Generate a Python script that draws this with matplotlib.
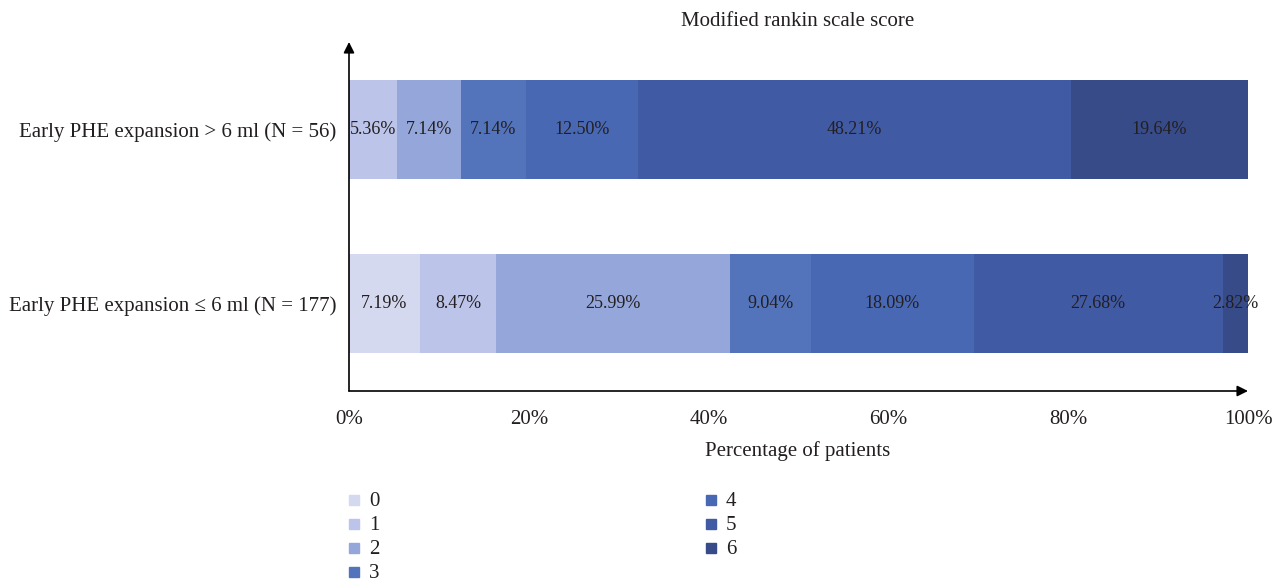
import matplotlib
matplotlib.use('Agg')
import matplotlib.pyplot as plt
from matplotlib.patches import Rectangle

plt.rcParams['font.family'] = ['Liberation Serif', 'DejaVu Serif']

groups = ['Early PHE expansion ≤ 6 ml (N = 177)', 'Early PHE expansion > 6 ml (N = 56)']
scores = ['0', '1', '2', '3', '4', '5', '6']
colors = ['#D5D9F0', '#BCC4EA', '#94A6DA', '#5373BA', '#4968B3', '#415AA4', '#374B89']

# percentages per score, one list per group (same order as groups)
values_low = [7.91, 8.47, 25.99, 9.04, 18.09, 27.68, 2.82]
values_high = [0.0, 5.36, 7.14, 7.14, 12.50, 48.21, 19.64]
# labels as printed on the chart
labels_low = ['7.19%', '8.47%', '25.99%', '9.04%', '18.09%', '27.68%', '2.82%']
labels_high = ['', '5.36%', '7.14%', '7.14%', '12.50%', '48.21%', '19.64%']

xticks = [0, 20, 40, 60, 80, 100]
xticklabels = ['0%', '20%', '40%', '60%', '80%', '100%']

text_color = '#231F20'

fig = plt.figure(figsize=(12.72, 5.82), dpi=100)
ax = fig.add_axes([349 / 1272, 1 - 391 / 582, 899 / 1272, 349 / 582])

for yi, (vals, labs) in enumerate([(values_low, labels_low), (values_high, labels_high)]):
    left = 0
    for v, lab, c in zip(vals, labs, colors):
        if v > 0:
            ax.barh(yi, v, left=left, height=0.565, color=c, edgecolor='none')
            ax.text(left + v / 2, yi, lab, ha='center', va='center',
                    fontsize=13, color=text_color)
        left += v

ax.set_xlim(0, 100)
ax.set_ylim(-0.5, 1.5)
ax.set_xticks(xticks)
ax.set_xticklabels(xticklabels, fontsize=15, color=text_color)
ax.set_yticks([0, 1])
ax.set_yticklabels(groups, fontsize=15, color=text_color)
ax.tick_params(length=0, pad=9)
ax.tick_params(axis='x', pad=14)
for s in ax.spines.values():
    s.set_visible(False)

# axis arrows
ax.annotate('', xy=(1.0, 0), xytext=(0, 0), xycoords='axes fraction',
            arrowprops=dict(arrowstyle='-|>', color='black', lw=1.2,
                            mutation_scale=16, shrinkA=0, shrinkB=0))
ax.annotate('', xy=(0, 1.0), xytext=(0, 0), xycoords='axes fraction',
            arrowprops=dict(arrowstyle='-|>', color='black', lw=1.2,
                            mutation_scale=16, shrinkA=0, shrinkB=0))

fig.text(798 / 1272, 1 - 22 / 582, 'Modified rankin scale score', ha='center',
         va='center', fontsize=15, color=text_color)
fig.text(798 / 1272, 1 - 451 / 582, 'Percentage of patients', ha='center',
         va='center', fontsize=15, color=text_color)

# legend, two columns
for i, (s, c) in enumerate(zip(scores, colors)):
    col, row = (0, i) if i < 4 else (1, i - 4)
    x0 = 349 + col * 357
    y0 = 500 + row * 24
    fig.add_artist(Rectangle((x0 / 1272, 1 - (y0 + 5) / 582), 10 / 1272, 10 / 582,
                             transform=fig.transFigure, color=c))
    fig.text((x0 + 20) / 1272, 1 - (y0 + 1) / 582, s, ha='left', va='center',
             fontsize=15, color=text_color)

plt.savefig('out.png', dpi=100)
plt.close()
